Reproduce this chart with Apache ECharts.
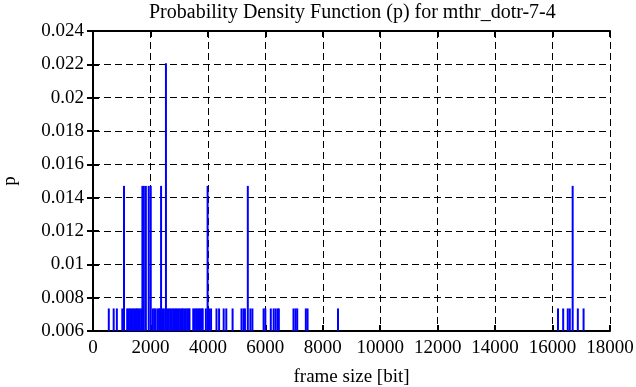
<!DOCTYPE html>
<html>
<head>
<meta charset="utf-8">
<script src="https://cdn.jsdelivr.net/npm/echarts@6/dist/echarts.min.js"></script>
<style>html,body{margin:0;padding:0;background:#fff;}#c{width:636px;height:387px;}</style>
</head>
<body>
<div id="c"></div>
<script>
// frame sizes [bit] and their probabilities
const frameSize = [
  550, 720, 830, 1020, 1080,
  1190, 1240, 1290, 1340, 1390, 1440, 1490, 1530,
  1580, 1630, 1680, 1720, 1770, 1840, 1940, 2010, 2080, 2130, 2180,
  2250, 2300, 2330, 2370, 2420, 2470, 2540, 2590, 2640, 2690, 2740, 2790, 2840, 2890, 2940, 2990, 3040, 3090,
  3130, 3180, 3230, 3280, 3330, 3360,
  3490, 3540, 3590, 3640, 3690, 3740, 3790, 3820,
  3930, 3990, 4040, 4110,
  4300, 4390, 4550, 4640, 4860,
  5170, 5240, 5290, 5390, 5480, 5550,
  5940, 6000, 6190, 6290, 6360, 6430, 6470,
  6980, 7050, 7110, 7410, 7470, 8530,
  16190, 16370, 16530, 16600, 16700, 16880, 17080
];
const p = [
  0.007353, 0.007353, 0.007353, 0.007353, 0.014706,
  0.007353, 0.007353, 0.007353, 0.007353, 0.007353, 0.007353, 0.007353, 0.007353,
  0.007353, 0.007353, 0.007353, 0.014706, 0.014706, 0.014706, 0.014706, 0.014706, 0.007353, 0.007353, 0.007353,
  0.007353, 0.007353, 0.007353, 0.014706, 0.007353, 0.007353, 0.022059, 0.007353, 0.007353, 0.007353, 0.007353, 0.007353, 0.007353, 0.007353, 0.007353, 0.007353, 0.007353, 0.007353,
  0.007353, 0.007353, 0.007353, 0.007353, 0.007353, 0.007353,
  0.007353, 0.007353, 0.007353, 0.007353, 0.007353, 0.007353, 0.007353, 0.007353,
  0.007353, 0.014706, 0.007353, 0.007353,
  0.007353, 0.007353, 0.007353, 0.007353, 0.007353,
  0.007353, 0.007353, 0.007353, 0.014706, 0.007353, 0.007353,
  0.007353, 0.007353, 0.007353, 0.007353, 0.007353, 0.007353, 0.007353,
  0.007353, 0.007353, 0.007353, 0.007353, 0.007353, 0.007353,
  0.007353, 0.007353, 0.007353, 0.007353, 0.014706, 0.007353, 0.007353
];
const xTicks = {min: 0, max: 18000, interval: 2000};
const yTicks = {min: 0.006, max: 0.024, interval: 0.002};

const font = 'Liberation Serif';
const chart = echarts.init(document.getElementById('c'));
const data = frameSize.map((x, i) => [x, p[i]]);
const grid = {left: 93, right: 26, top: 31, bottom: 56, containLabel: false, outerBoundsMode: 'none'};
const axisLine = {show: true, lineStyle: {color: '#000', width: 2}};
const splitDash = {show: true, lineStyle: {color: '#000', width: 1, type: [7, 4]}};
const tick = {show: true, inside: true, length: 6, lineStyle: {color: '#000', width: 2}};
chart.setOption({
  animation: false,
  backgroundColor: '#fff',
  title: {
    text: 'Probability Density Function (p) for mthr_dotr-7-4',
    left: 144, top: -2,
    textStyle: {fontFamily: font, fontSize: 20, fontWeight: 'normal', color: '#000'}
  },
  grid: grid,
  xAxis: [{
    type: 'value', position: 'bottom', min: xTicks.min, max: xTicks.max, interval: xTicks.interval,
    name: 'frame size [bit]', nameLocation: 'middle', nameGap: 37,
    nameTextStyle: {fontFamily: font, fontSize: 19, color: '#000'},
    axisLine: axisLine, axisTick: tick,
    axisLabel: {fontFamily: font, fontSize: 19, color: '#000', margin: 8,
      formatter: v => String(v)},
    splitLine: splitDash
  }, {
    type: 'value', position: 'top', min: xTicks.min, max: xTicks.max, interval: xTicks.interval,
    axisLine: axisLine, axisTick: tick,
    axisLabel: {show: false}, splitLine: {show: false}
  }],
  yAxis: [{
    type: 'value', position: 'left', min: yTicks.min, max: yTicks.max, interval: yTicks.interval,
    name: 'p', nameLocation: 'middle', nameGap: 73, nameRotate: 90,
    nameTextStyle: {fontFamily: font, fontSize: 19, color: '#000'},
    axisLine: axisLine, axisTick: tick,
    axisLabel: {fontFamily: font, fontSize: 19, color: '#000', margin: 9,
      formatter: v => String(parseFloat(v.toFixed(3)))},
    splitLine: splitDash
  }, {
    type: 'value', position: 'right', min: yTicks.min, max: yTicks.max, interval: yTicks.interval,
    axisLine: axisLine, axisTick: tick,
    axisLabel: {show: false}, splitLine: {show: false}
  }],
  series: [{
    type: 'bar', data: data, barWidth: 2, clip: true,
    itemStyle: {color: '#0000ff'}
  }]
});
</script>
</body>
</html>
